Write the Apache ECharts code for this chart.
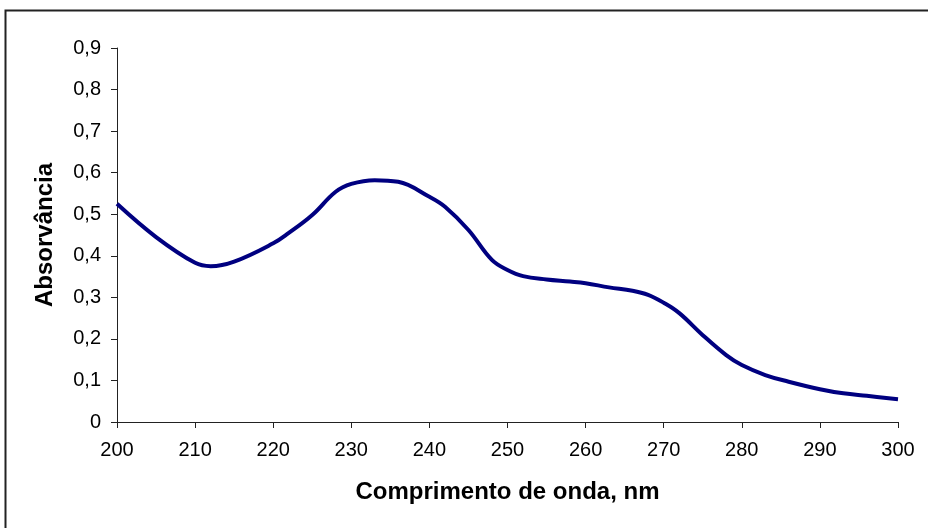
<!DOCTYPE html>
<html>
<head>
<meta charset="utf-8">
<script src="https://cdn.jsdelivr.net/npm/echarts@6/dist/echarts.min.js"></script>
<style>
  html, body { margin: 0; padding: 0; background: #fff; }
  #chart { width: 928px; height: 528px; }
</style>
</head>
<body>
<div id="chart"></div>
<script>
// comprimento de onda (nm) e absorvância
const wavelength = [200, 205, 210, 212, 215, 220, 222, 225, 228, 230, 233, 236, 240, 242, 245, 248, 250, 252, 255, 258, 260, 263, 266, 268, 270, 272, 275, 278, 280, 283, 286, 290, 293, 296, 300];
const absorbance = [0.525, 0.445, 0.383, 0.375, 0.386, 0.43, 0.455, 0.498, 0.554, 0.573, 0.582, 0.578, 0.542, 0.518, 0.462, 0.39, 0.366, 0.351, 0.343, 0.338, 0.334, 0.324, 0.316, 0.306, 0.287, 0.262, 0.209, 0.161, 0.137, 0.113, 0.097, 0.079, 0.069, 0.063, 0.055];
const xTitle = 'Comprimento de onda, nm';
const yTitle = 'Absorvância';

let chart = echarts.init(document.getElementById('chart'));
let points = wavelength.map((w, i) => [w, absorbance[i]]);

let option = {
  animation: false,
  textStyle: { fontFamily: '"Liberation Sans", Arial, sans-serif' },
  graphic: [
    {
      type: 'polyline',
      shape: { points: [[5.5, 540], [5.5, 10.5], [940, 10.5]] },
      style: { stroke: '#222', lineWidth: 2, fill: null }
    }
  ],
  grid: { left: 117, right: 30, top: 48, bottom: 106 },
  xAxis: {
    type: 'value',
    min: 200,
    max: 300,
    interval: 10,
    name: xTitle,
    nameLocation: 'middle',
    nameGap: 58,
    nameTextStyle: { fontSize: 24, fontWeight: 'bold', color: '#000' },
    axisLine: { lineStyle: { color: '#222', width: 1 } },
    axisTick: { show: true, inside: false, length: 6, lineStyle: { color: '#222' } },
    axisLabel: { fontSize: 20, color: '#000', margin: 18 },
    splitLine: { show: false }
  },
  yAxis: {
    type: 'value',
    min: 0,
    max: 0.9,
    interval: 0.1,
    name: yTitle,
    nameLocation: 'middle',
    nameGap: 60,
    nameTextStyle: { fontSize: 24, fontWeight: 'bold', color: '#000' },
    axisLine: { show: true, lineStyle: { color: '#222', width: 1 } },
    axisTick: { show: true, inside: false, length: 6, lineStyle: { color: '#222' } },
    axisLabel: {
      fontSize: 20, color: '#000', margin: 16,
      formatter: v => (Math.round(v * 10) / 10).toString().replace('.', ',')
    },
    splitLine: { show: false }
  },
  series: [
    {
      type: 'line',
      data: points,
      smooth: 0.4,
      showSymbol: false,
      lineStyle: { color: '#000080', width: 4 }
    }
  ]
};
chart.setOption(option);
</script>
</body>
</html>
